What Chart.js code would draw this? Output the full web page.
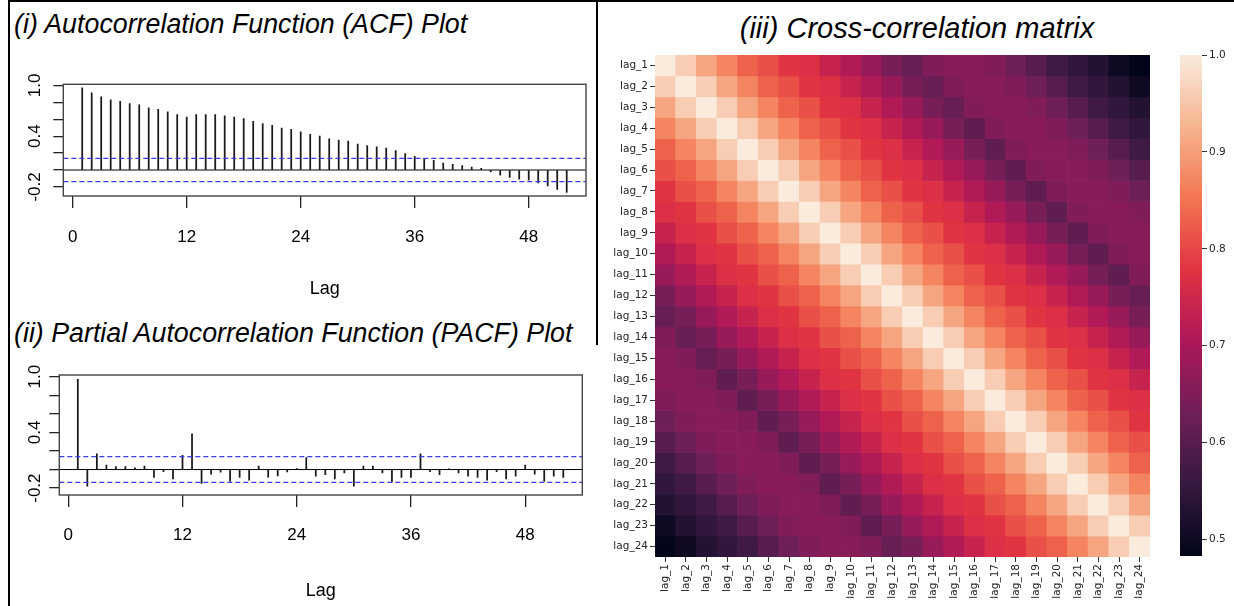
<!DOCTYPE html>
<html>
<head>
<meta charset="utf-8">
<script src="https://cdn.jsdelivr.net/npm/chart.js@4.4.1/dist/chart.umd.min.js"></script>
<style>
  html, body { margin: 0; padding: 0; background: #fff; }
  body { width: 1234px; height: 606px; position: relative; overflow: hidden; font-family: "Liberation Sans", Arial, sans-serif; }
  .box { position: absolute; }
  .title { position: absolute; font-style: italic; font-size: 26.8px; line-height: 28px; color: #000; white-space: nowrap; }
  .rule { position: absolute; background: #000; }
</style>
</head>
<body>
<div class="rule" style="left:8px;top:0;width:2px;height:606px"></div>
<div class="rule" style="left:8px;top:0;width:1226px;height:2px"></div>
<div class="rule" style="left:596px;top:0;width:2px;height:345px"></div>

<div class="title" style="left:14px;top:10px">(i) Autocorrelation Function (ACF) Plot</div>
<div class="title" style="left:14px;top:319px">(ii) Partial Autocorrelation Function (PACF) Plot</div>
<div class="title" style="left:600px;width:634px;text-align:center;top:14px;font-size:29px">(iii) Cross-correlation matrix</div>

<div class="box" style="left:10px;top:40px;width:586px;height:270px"><canvas id="acf"></canvas></div>
<div class="box" style="left:10px;top:345px;width:586px;height:261px"><canvas id="pacf"></canvas></div>
<div class="box" style="left:600px;top:40px;width:570px;height:566px"><canvas id="heat"></canvas></div>
<div class="box" style="left:1170px;top:40px;width:64px;height:566px"><canvas id="cbar"></canvas></div>

<script>
// lags 1..52 shown in both correlograms
const lags = [1, 2, 3, 4, 5, 6, 7, 8, 9, 10, 11, 12, 13, 14, 15, 16, 17, 18, 19, 20, 21, 22, 23, 24, 25, 26,
  27, 28, 29, 30, 31, 32, 33, 34, 35, 36, 37, 38, 39, 40, 41, 42, 43, 44, 45, 46, 47, 48, 49, 50, 51, 52];

const acfValues = [0.972, 0.913, 0.865, 0.829, 0.813, 0.786, 0.770, 0.734, 0.718, 0.687, 0.655, 0.627,
  0.655, 0.655, 0.655, 0.639, 0.627, 0.607, 0.575, 0.548, 0.528, 0.496, 0.482, 0.452, 0.421, 0.401,
  0.369, 0.353, 0.341, 0.306, 0.290, 0.274, 0.258, 0.230, 0.194, 0.163, 0.135, 0.115, 0.083, 0.067,
  0.052, 0.036, 0.020, -0.020, -0.060, -0.087, -0.107, -0.119, -0.151, -0.187, -0.230, -0.266];

const pacfValues = [0.971, -0.179, 0.168, 0.047, 0.032, 0.032, 0.018, 0.036, -0.086, -0.022, -0.100, 0.154,
  0.384, -0.150, -0.050, -0.029, -0.129, -0.086, -0.115, 0.036, -0.082, -0.068, -0.025, 0.010, 0.129, -0.072,
  -0.054, -0.100, -0.036, -0.179, 0.036, 0.036, -0.036, -0.133, -0.086, -0.086, 0.168, -0.022, -0.054, 0.005,
  -0.036, -0.072, -0.086, -0.115, -0.022, -0.100, -0.072, 0.047, -0.050, -0.129, -0.072, -0.086];

const confLimit = 0.138;          // blue dashed significance bounds
const lagTicks = [0, 12, 24, 36, 48];
const corrTicks = [-0.2, 0, 0.2, 0.4, 0.6, 0.8, 1.0];
const corrTickLabels = [1.0, 0.4, -0.2];

const lagNames = ['lag_1', 'lag_2', 'lag_3', 'lag_4', 'lag_5', 'lag_6', 'lag_7', 'lag_8', 'lag_9', 'lag_10',
  'lag_11', 'lag_12', 'lag_13', 'lag_14', 'lag_15', 'lag_16', 'lag_17', 'lag_18', 'lag_19', 'lag_20',
  'lag_21', 'lag_22', 'lag_23', 'lag_24'];

const corrMatrix = [
  [1, .96, .91, .87, .83, .81, .78, .77, .74, .71, .68, .64, .62, .65, .66, .66, .65, .63, .60, .57, .55, .53, .50, .483],
  [.96, 1, .96, .91, .87, .83, .81, .78, .77, .74, .71, .68, .64, .62, .65, .66, .66, .65, .63, .60, .57, .55, .53, .50],
  [.91, .96, 1, .96, .91, .87, .83, .81, .78, .77, .74, .71, .68, .64, .62, .65, .66, .66, .65, .63, .60, .57, .55, .53],
  [.87, .91, .96, 1, .96, .91, .87, .83, .81, .78, .77, .74, .71, .68, .64, .61, .65, .66, .66, .65, .63, .60, .57, .55],
  [.83, .87, .91, .96, 1, .96, .91, .87, .83, .81, .78, .77, .74, .71, .68, .64, .61, .65, .66, .66, .65, .63, .60, .57],
  [.81, .83, .87, .91, .96, 1, .96, .91, .87, .83, .81, .78, .77, .74, .71, .68, .64, .61, .65, .66, .66, .65, .63, .60],
  [.78, .81, .83, .87, .91, .96, 1, .96, .91, .87, .83, .81, .78, .77, .74, .71, .68, .64, .61, .65, .66, .66, .65, .63],
  [.77, .78, .81, .83, .87, .91, .96, 1, .96, .91, .87, .83, .81, .78, .77, .74, .71, .68, .64, .61, .65, .66, .66, .65],
  [.74, .77, .78, .81, .83, .87, .91, .96, 1, .96, .91, .87, .83, .81, .78, .77, .74, .71, .68, .64, .61, .65, .66, .66],
  [.71, .74, .77, .78, .81, .83, .87, .91, .96, 1, .96, .91, .87, .83, .81, .78, .77, .74, .71, .68, .64, .61, .65, .66],
  [.68, .71, .74, .77, .78, .81, .83, .87, .91, .96, 1, .96, .91, .87, .83, .81, .78, .77, .74, .71, .68, .64, .61, .65],
  [.64, .68, .71, .74, .77, .78, .81, .83, .87, .91, .96, 1, .96, .91, .87, .83, .81, .78, .77, .74, .71, .68, .64, .62],
  [.62, .64, .68, .71, .74, .77, .78, .81, .83, .87, .91, .96, 1, .96, .91, .87, .83, .81, .78, .77, .74, .71, .68, .64],
  [.65, .62, .64, .68, .71, .74, .77, .78, .81, .83, .87, .91, .96, 1, .96, .91, .87, .83, .81, .78, .77, .74, .71, .68],
  [.66, .65, .62, .64, .68, .71, .74, .77, .78, .81, .83, .87, .91, .96, 1, .96, .91, .87, .83, .81, .78, .77, .74, .71],
  [.66, .66, .65, .61, .64, .68, .71, .74, .77, .78, .81, .83, .87, .91, .96, 1, .96, .91, .87, .83, .81, .78, .77, .74],
  [.65, .66, .66, .65, .61, .64, .68, .71, .74, .77, .78, .81, .83, .87, .91, .96, 1, .96, .91, .87, .83, .81, .78, .77],
  [.63, .65, .66, .66, .65, .61, .64, .68, .71, .74, .77, .78, .81, .83, .87, .91, .96, 1, .96, .91, .87, .83, .81, .78],
  [.60, .63, .65, .66, .66, .65, .61, .64, .68, .71, .74, .77, .78, .81, .83, .87, .91, .96, 1, .96, .91, .87, .83, .81],
  [.57, .60, .63, .65, .66, .66, .65, .61, .64, .68, .71, .74, .77, .78, .81, .83, .87, .91, .96, 1, .96, .91, .87, .83],
  [.55, .57, .60, .63, .65, .66, .66, .65, .61, .64, .68, .71, .74, .77, .78, .81, .83, .87, .91, .96, 1, .96, .91, .87],
  [.53, .55, .57, .60, .63, .65, .66, .66, .65, .61, .64, .68, .71, .74, .77, .78, .81, .83, .87, .91, .96, 1, .96, .91],
  [.50, .53, .55, .57, .60, .63, .65, .66, .66, .65, .61, .64, .68, .71, .74, .77, .78, .81, .83, .87, .91, .96, 1, .96],
  [.483, .50, .53, .55, .57, .60, .63, .65, .66, .66, .65, .62, .64, .68, .71, .74, .77, .78, .81, .83, .87, .91, .96, 1]
];

const cbarMin = 0.483;
const cbarMax = 1.0;
const cbarTicks = [0.5, 0.6, 0.7, 0.8, 0.9, 1.0];

// seaborn "rocket" colormap, sampled
const rocketStops = [
  [0, '#03051A'], [1 / 7, '#35193E'], [2 / 7, '#701F57'], [3 / 7, '#AD1759'],
  [4 / 7, '#E13342'], [5 / 7, '#F37651'], [6 / 7, '#F6B48F'], [1, '#FAEBDD']
];

function hexRgb(h) {
  return [parseInt(h.slice(1, 3), 16), parseInt(h.slice(3, 5), 16), parseInt(h.slice(5, 7), 16)];
}

function rocket(t) {
  t = Math.max(0, Math.min(1, t));
  for (let i = 1; i < rocketStops.length; i++) {
    if (t <= rocketStops[i][0]) {
      const [t0, c0] = rocketStops[i - 1];
      const [t1, c1] = rocketStops[i];
      const f = (t - t0) / (t1 - t0);
      const a = hexRgb(c0), b = hexRgb(c1);
      return 'rgb(' + a.map((v, k) => Math.round(v + (b[k] - v) * f)).join(',') + ')';
    }
  }
  return rocketStops[rocketStops.length - 1][1];
}

Chart.defaults.animation = false;
Chart.defaults.responsive = true;
Chart.defaults.maintainAspectRatio = false;
Chart.defaults.plugins.legend.display = false;
Chart.defaults.plugins.tooltip.enabled = false;

const rFont = '"Liberation Sans", Arial, sans-serif';

// R style: box, zero line, dashed bounds, rotated y labels
const rPlot = {
  id: 'rPlot',
  afterDatasetsDraw(chart, args, opts) {
    const { ctx, chartArea: a, scales: { y } } = chart;
    ctx.save();
    const y0 = y.getPixelForValue(0);
    ctx.strokeStyle = '#000';
    ctx.lineWidth = 1;
    ctx.beginPath(); ctx.moveTo(a.left, y0); ctx.lineTo(a.right, y0); ctx.stroke();

    ctx.strokeStyle = '#3b3bf0';
    ctx.lineWidth = 1.3;
    ctx.setLineDash([5, 3]);
    [opts.limit, -opts.limit].forEach(v => {
      const py = y.getPixelForValue(v);
      ctx.beginPath(); ctx.moveTo(a.left, py); ctx.lineTo(a.right, py); ctx.stroke();
    });
    ctx.setLineDash([]);

    ctx.strokeStyle = '#444';
    ctx.lineWidth = 1.4;
    ctx.strokeRect(a.left, a.top, a.right - a.left, a.bottom - a.top);

    ctx.fillStyle = '#000';
    ctx.font = '17px ' + rFont;
    ctx.textAlign = 'center';
    ctx.textBaseline = 'alphabetic';
    corrTickLabels.forEach(v => {
      ctx.save();
      ctx.translate(opts.labelX, y.getPixelForValue(v));
      ctx.rotate(-Math.PI / 2);
      ctx.fillText(v.toFixed(1), 0, 0);
      ctx.restore();
    });
    ctx.restore();
  }
};

function correlogram(id, values, s) {
  return new Chart(document.getElementById(id), {
    type: 'bar',
    data: {
      datasets: [{
        data: lags.map((l, i) => ({ x: l, y: values[i] })),
        backgroundColor: '#1a1a1a',
        barThickness: 1.1
      }]
    },
    options: {
      layout: { padding: { top: s.top, right: s.right, left: 0, bottom: 0 } },
      scales: {
        x: {
          type: 'linear', min: s.xMin, max: s.xMax, offset: false,
          afterBuildTicks: sc => { sc.ticks = lagTicks.map(v => ({ value: v })); },
          afterFit: sc => { sc.height = s.xHeight; },
          ticks: { font: { family: rFont, size: 17 }, color: '#000', padding: s.tickPad, maxRotation: 0 },
          grid: { offset: false, drawOnChartArea: false, tickLength: 12, color: '#222', lineWidth: 1.3 },
          border: { display: false },
          title: { display: true, text: 'Lag', font: { family: rFont, size: 18 }, color: '#000',
            padding: { top: 0, bottom: s.titlePad } }
        },
        y: {
          min: s.yMin, max: s.yMax,
          afterBuildTicks: sc => { sc.ticks = corrTicks.map(v => ({ value: v })); },
          afterFit: sc => { sc.width = s.yWidth; },
          ticks: { display: false },
          grid: { drawOnChartArea: false, tickLength: 10, color: '#222', lineWidth: 1.3 },
          border: { display: false }
        }
      },
      plugins: { rPlot: { limit: confLimit, labelX: 30 } }
    },
    plugins: [rPlot]
  });
}

correlogram('acf', acfValues, {
  top: 44.3, right: 10, yWidth: 53.3, xHeight: 114, tickPad: 19, titlePad: 10,
  xMin: -0.99, xMax: 54.03, yMin: -0.307, yMax: 1.013
});

correlogram('pacf', pacfValues, {
  top: 30, right: 13.7, yWidth: 49.3, xHeight: 111, tickPad: 18.5, titlePad: 4,
  xMin: -0.945, xMax: 54.0, yMin: -0.274, yMax: 1.017
});

// heatmap: one stacked bar per cell, rows stacked top to bottom
const heatFont = { family: '"DejaVu Sans", sans-serif', size: 10.5 };
const cellColor = v => rocket((v - cbarMin) / (cbarMax - cbarMin));

new Chart(document.getElementById('heat'), {
  type: 'bar',
  data: {
    labels: lagNames,
    datasets: corrMatrix.map(row => ({
      data: row.map(() => 1),
      backgroundColor: row.map(cellColor),
      borderWidth: 0,
      barPercentage: 1,
      categoryPercentage: 1
    }))
  },
  options: {
    layout: { padding: { top: 15, right: 20, left: 0, bottom: 0 } },
    scales: {
      x: {
        stacked: true,
        afterFit: sc => { sc.height = 49; },
        ticks: { font: heatFont, color: '#262626', minRotation: 90, maxRotation: 90, padding: 2, autoSkip: false },
        grid: { offset: false, drawOnChartArea: false, tickLength: 5, color: '#333' },
        border: { display: false }
      },
      y: {
        stacked: true, reverse: true, min: 0, max: lagNames.length,
        afterBuildTicks: sc => { sc.ticks = lagNames.map((n, i) => ({ value: i + 0.5 })); },
        afterFit: sc => { sc.width = 55; },
        ticks: { font: heatFont, color: '#262626', padding: 2, callback: (v, i) => lagNames[i] },
        grid: { drawOnChartArea: false, tickLength: 5, color: '#333' },
        border: { display: false }
      }
    }
  }
});

// colour bar
new Chart(document.getElementById('cbar'), {
  type: 'bar',
  data: {
    labels: [''],
    datasets: [{
      data: [[cbarMin, cbarMax]],
      borderWidth: 0,
      barPercentage: 1,
      categoryPercentage: 1,
      backgroundColor: ctx => {
        const ch = ctx.chart;
        if (!ch.chartArea) return 'transparent';
        const y = ch.scales.y;
        const g = ch.ctx.createLinearGradient(0, y.getPixelForValue(cbarMin), 0, y.getPixelForValue(cbarMax));
        rocketStops.forEach(([t, c]) => g.addColorStop(t, c));
        return g;
      }
    }]
  },
  options: {
    layout: { padding: { top: 15, left: 10, right: 0, bottom: 50 } },
    scales: {
      x: { display: false },
      y: {
        position: 'right', min: cbarMin, max: cbarMax,
        afterBuildTicks: sc => { sc.ticks = cbarTicks.map(v => ({ value: v })); },
        afterFit: sc => { sc.width = 32; },
        ticks: { font: heatFont, color: '#262626', padding: 2, callback: v => v.toFixed(1) },
        grid: { drawOnChartArea: false, tickLength: 5, color: '#333' },
        border: { display: false }
      }
    }
  }
});
</script>
</body>
</html>
